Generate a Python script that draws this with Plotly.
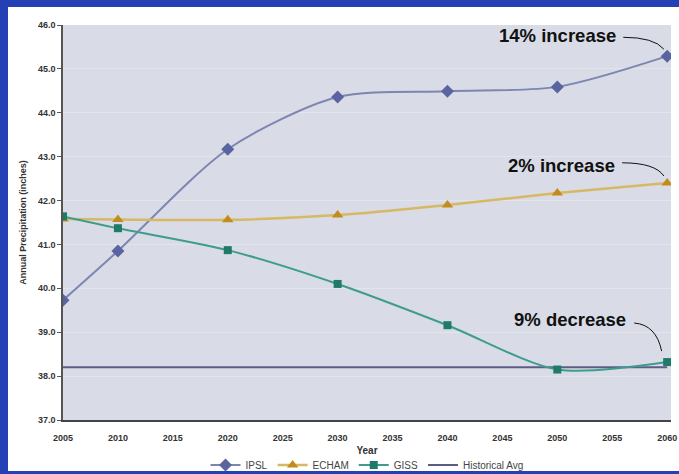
import plotly.graph_objects as go

years = [2005, 2010, 2020, 2030, 2040, 2050, 2060]
ipsl = [39.73, 40.85, 43.17, 44.36, 44.49, 44.59, 45.29]
echam = [41.58, 41.57, 41.56, 41.67, 41.90, 42.17, 42.40]
giss = [41.64, 41.37, 40.87, 40.10, 39.16, 38.15, 38.32]
hist_years = [2005, 2060]
hist_avg = [38.2, 38.2]

x_ticks = list(range(2005, 2061, 5))
y_ticks = [37, 38, 39, 40, 41, 42, 43, 44, 45, 46]
y_tick_labels = ["%.1f" % v for v in y_ticks]

labels = ["14% increase", "2% increase", "9% decrease"]

narrow = "Liberation Sans Narrow, Arial Narrow, Liberation Sans, Arial"
bold_font = "Liberation Sans, Arial"

fig = go.Figure()
fig.add_trace(go.Scatter(x=hist_years, y=hist_avg, mode="lines", name="Historical Avg",
                         line=dict(color="#5C5C84", width=2)))
fig.add_trace(go.Scatter(x=years, y=ipsl, mode="lines+markers", name="IPSL",
                         line=dict(color="#7D85B2", width=2, shape="spline", smoothing=0.8),
                         marker=dict(symbol="diamond", size=10, color="#5A64A0")))
fig.add_trace(go.Scatter(x=years, y=echam, mode="lines+markers", name="ECHAM",
                         line=dict(color="#D6B964", width=2.5, shape="spline", smoothing=0.8),
                         marker=dict(symbol="triangle-up", size=10, color="#C38B1C")))
fig.add_trace(go.Scatter(x=years, y=giss, mode="lines+markers", name="GISS",
                         line=dict(color="#3E9C8E", width=2, shape="spline", smoothing=0.8),
                         marker=dict(symbol="square", size=8, color="#1F7A6A")))

# legend order: IPSL, ECHAM, GISS, Historical Avg
fig.data[0].legendrank = 4
fig.data[1].legendrank = 1
fig.data[2].legendrank = 2
fig.data[3].legendrank = 3

blue = "#2340B4"
shapes = [
    # blue frame around the white panel
    dict(type="rect", xref="paper", yref="paper", x0=-0.2, x1=(8 - 63) / 608, y0=-0.2, y1=1.2,
         fillcolor=blue, line=dict(width=0), layer="above"),
    dict(type="rect", xref="paper", yref="paper", x0=-0.2, x1=1.2, y0=(420 - 7) / 395, y1=1.2,
         fillcolor=blue, line=dict(width=0), layer="above"),
    dict(type="rect", xref="paper", yref="paper", x0=-0.2, x1=1.2, y0=-0.2, y1=(420 - 471) / 395,
         fillcolor=blue, line=dict(width=0), layer="above"),
]

# curved leader lines, anchored on the last data value of each series
lasts = [ipsl[-1], echam[-1], giss[-1]]
leaders = [
    (2056.0, lasts[0] + 0.43, 2058.8, lasts[0] + 0.43, 2059.7, lasts[0] + 0.16),
    (2055.9, lasts[1] + 0.46, 2058.9, lasts[1] + 0.46, 2059.7, lasts[1] + 0.16),
    (2057.0, lasts[2] + 0.89, 2059.0, lasts[2] + 0.85, 2059.5, lasts[2] + 0.25),
]
for (x0, y0, cx, cy, x1, y1) in leaders:
    shapes.append(dict(type="path", xref="x", yref="y",
                       path=f"M {x0},{y0} Q {cx},{cy} {x1},{y1}",
                       line=dict(color="#111111", width=1)))

annotations = []
ann_pos = [(2055.5, lasts[0] + 0.48), (2055.4, lasts[1] + 0.41), (2056.45, lasts[2] + 0.96)]
for txt, (ax, ay) in zip(labels, ann_pos):
    annotations.append(dict(x=ax, y=ay, xref="x", yref="y", text=txt, showarrow=False,
                            xanchor="right", yanchor="middle",
                            font=dict(family=bold_font, size=18.5, color="#111111", weight="bold")))

fig.update_layout(
    width=679, height=474,
    margin=dict(l=63, r=8, t=25, b=54, autoexpand=False),
    paper_bgcolor="white",
    plot_bgcolor="#D9DCE6",
    showlegend=True,
    legend=dict(orientation="h", x=0.5, xanchor="center", y=(420 - 465) / 395, yanchor="middle",
                font=dict(family=narrow, size=10, color="#444444"),
                bgcolor="rgba(0,0,0,0)", itemwidth=30, tracegroupgap=0),
    shapes=shapes,
    annotations=annotations,
    xaxis=dict(range=[2005, 2060.35], tickvals=x_ticks, showgrid=False, zeroline=False,
               showline=True, linecolor="#444444", linewidth=1.5,
               ticks="outside", ticklen=8, tickcolor="rgba(0,0,0,0)",
               tickfont=dict(family=narrow, size=9, color="#333333", weight="bold"),
               title=dict(text="Year", standoff=5,
                          font=dict(family=narrow, size=10, color="#333333", weight="bold"))),
    yaxis=dict(range=[37, 46], tickvals=y_ticks, ticktext=y_tick_labels,
               showgrid=True, gridcolor="#E3E5EC", gridwidth=1, zeroline=False,
               showline=True, linecolor="#555555", linewidth=1.5,
               ticks="outside", ticklen=4, tickcolor="#555555",
               tickfont=dict(family=narrow, size=9, color="#333333", weight="bold"),
               title=dict(text="Annual Precipitation (inches)", standoff=10,
                          font=dict(family=narrow, size=9, color="#333333", weight="bold"))),
)

fig.write_html("out.html")
